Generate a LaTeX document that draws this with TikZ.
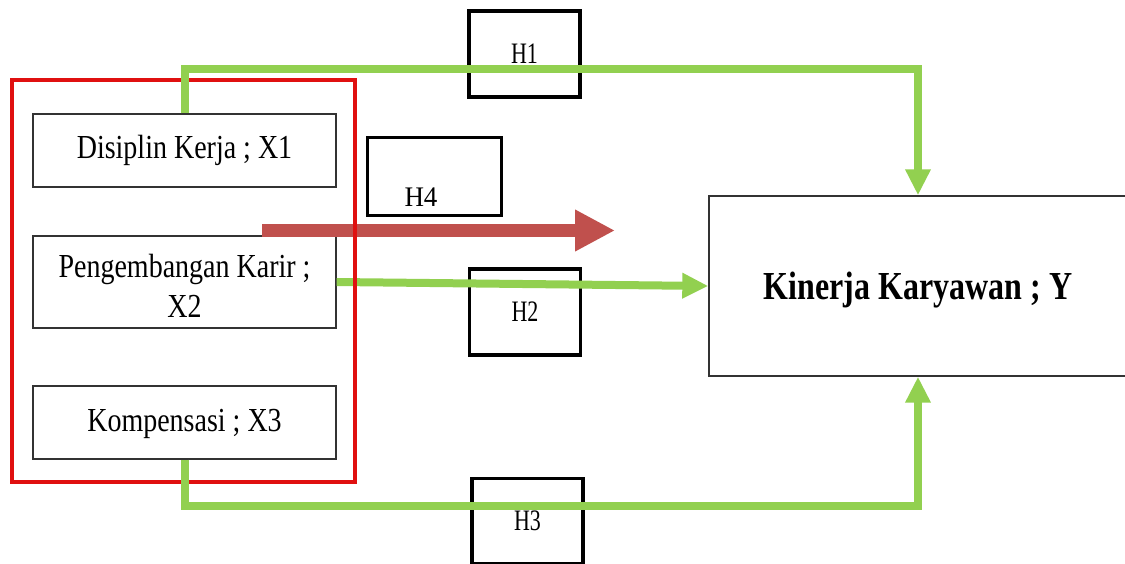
\documentclass[tikz,border=0pt]{standalone}
\usepackage{fontspec}
\setmainfont{Liberation Serif}
\usetikzlibrary{arrows.meta}
\definecolor{linkgreen}{HTML}{92D050}
\definecolor{hypred}{HTML}{C0504D}
\definecolor{groupred}{HTML}{E01010}
\newcommand\vstretch[2]{\scalebox{1}[#1]{#2}}

\begin{document}
\begin{tikzpicture}[x=1pt,y=-1pt,
  varbox/.style={draw=black!80,line width=1.4pt,minimum width=303pt,
    inner sep=0pt,font=\fontsize{28}{40}\selectfont,align=center},
  hbox/.style={draw=black,line width=3.5pt,inner sep=0pt,
    minimum width=111pt,minimum height=86pt,
    font=\fontsize{22}{26}\selectfont,text depth=0pt},
  greenlink/.style={draw=linkgreen,line width=8pt,
    -{Triangle[length=26pt,width=24pt]}},
  bigarrow/.style={draw=hypred,line width=13pt,
    -{Triangle[length=40pt,width=39pt]}},
  groupbox/.style={draw=groupred,line width=4.5pt,inner sep=0pt}]

\useasboundingbox (0,0) rectangle (1125,564);

% independent variables
\node[varbox,minimum height=73pt,text depth=8pt] (x1) at (184.5,150.5)
  {\vstretch{1.2}{Disiplin Kerja ; X1}};
\node[varbox,minimum height=92pt] (x2) at (184.5,282) {};
\node[font=\fontsize{28}{40}\selectfont,align=center,inner sep=0pt]
  (x2text) at (184.5,286)
  {\vstretch{1.2}{Pengembangan Karir ;}\\\vstretch{1.2}{X2}};
\node[varbox,minimum height=73pt,text depth=4pt] (x3) at (184.5,422.5)
  {\vstretch{1.2}{Kompensasi ; X3}};

% dependent variable
\node[draw=black!80,line width=1.4pt,minimum width=418pt,minimum height=180pt,
  inner sep=0pt,text depth=0pt,font=\fontsize{32}{38}\selectfont\bfseries]
  (y) at (918,286) {\vstretch{1.24}{Kinerja Karyawan ; Y}};

% hypothesis labels
\node[hbox] (h1) at (524.5,54) {\vstretch{1.35}{H1}};
\node[hbox] (h2) at (525,312) {\vstretch{1.35}{H2}};
\node[hbox,minimum height=85pt] (h3) at (527.5,521) {\vstretch{1.35}{H3}};
\node[draw=black,line width=2.2pt,minimum width=134pt,minimum height=78pt,
  inner sep=0pt] (h4box) at (434.5,176.5) {};
\node[font=\fontsize{27}{30}\selectfont,text depth=0pt,inner sep=0pt]
  (h4) at (421,197) {\vstretch{1.05}{H4}};

% partial effect of X2
\draw[greenlink] (x2.east) -- (y.west);

% simultaneous effect
\coordinate (simstart) at (262,230.5);
\coordinate (simend) at (615,230.5);
\draw[bigarrow] (simstart) -- (simend);

% group frame around the independent variables
\node[groupbox,minimum width=343pt,minimum height=402pt] (grp) at (183.5,281) {};

% partial effects of X1 and X3
\draw[greenlink] (x1.north) -- ++(0,-44) -| (y.north);
\draw[greenlink] (x3.south) -- ++(0,46) -| (y.south);
\end{tikzpicture}
\end{document}
